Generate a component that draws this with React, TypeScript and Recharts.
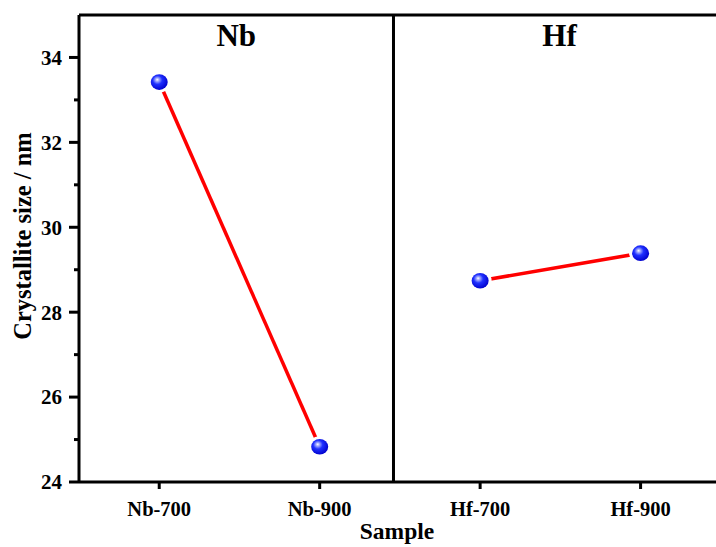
import { LineChart, Line, XAxis, YAxis, ReferenceLine, ReferenceArea } from "recharts";

const samples = ["Nb-700", "Nb-900", "Hf-700", "Hf-900"];
const nbSizes = [33.42, 24.83];
const hfSizes = [28.74, 29.39];
const yTicks = [24, 25, 26, 27, 28, 29, 30, 31, 32, 33, 34];
const groupLabels = ["Nb", "Hf"];

const nbData = nbSizes.map((v, i) => ({ x: i, size: v }));
const hfData = hfSizes.map((v, i) => ({ x: i + 2, size: v }));

const FONT = '"Liberation Serif", "Times New Roman", serif';
const AXIS_X = 79;
const DIVIDER = 1.46;

function YTick(props: any) {
  const { y, payload } = props;
  const v = payload.value;
  const major = v % 2 === 0;
  return (
    <g>
      <line x1={AXIS_X - (major ? 10 : 5)} x2={AXIS_X} y1={y} y2={y} stroke="#000" strokeWidth={3} />
      {major && (
        <text x={62} y={y} dy="0.35em" textAnchor="end" fontFamily={FONT} fontWeight="bold" fontSize={21} fill="#000">
          {v}
        </text>
      )}
    </g>
  );
}

function Sphere(props: any) {
  const { cx, cy, index } = props;
  if (cx == null || cy == null) return <g key={index} />;
  return (
    <g key={index}>
      <ellipse cx={cx} cy={cy} rx={11.5} ry={10.5} fill="#fff" />
      <ellipse cx={cx} cy={cy} rx={8.5} ry={7.8} fill="url(#sphereGrad)" />
    </g>
  );
}

export default function App() {
  return (
    <div style={{ position: "absolute", left: 0, top: 0, width: 716, height: 547, background: "#fff" }}>
      <LineChart width={716} height={547} margin={{ top: 15, right: 0, bottom: 0, left: 0 }}>
        <defs>
          <radialGradient id="sphereGrad" cx="42%" cy="40%" r="62%" fx="38%" fy="34%">
            <stop offset="0%" stopColor="#ffffff" />
            <stop offset="15%" stopColor="#aab2ff" />
            <stop offset="45%" stopColor="#1f30ff" />
            <stop offset="100%" stopColor="#0000cc" />
          </radialGradient>
        </defs>
        <XAxis
          dataKey="x"
          type="number"
          domain={[-0.5, 3.47]}
          ticks={[0, 1, 2, 3]}
          allowDataOverflow
          tickFormatter={(v: number) => samples[v] ?? ""}
          axisLine={{ stroke: "#000", strokeWidth: 3 }}
          tickLine={{ stroke: "#000", strokeWidth: 3 }}
          tickSize={7}
          tickMargin={12}
          height={65}
          tick={{ fontFamily: FONT, fontWeight: "bold", fontSize: 20.5, fill: "#000" }}
          label={{
            content: () => (
              <text x={397} y={539} textAnchor="middle" fontFamily={FONT} fontWeight="bold" fontSize={23.5} fill="#000">
                Sample
              </text>
            ),
          }}
        />
        <YAxis
          type="number"
          domain={[24, 35]}
          ticks={yTicks}
          allowDataOverflow
          width={AXIS_X}
          axisLine={{ stroke: "#000", strokeWidth: 3 }}
          tickLine={false}
          tick={<YTick />}
          interval={0}
          label={{
            content: () => (
              <text
                x={22}
                y={236}
                transform="rotate(-90 22 236)"
                textAnchor="middle"
                dy="0.35em"
                fontFamily={FONT}
                fontWeight="bold"
                fontSize={24.5}
                fill="#000"
              >
                Crystallite size / nm
              </text>
            ),
          }}
        />
        <ReferenceLine y={35} stroke="#000" strokeWidth={3} ifOverflow="visible" />
        <ReferenceLine x={DIVIDER} stroke="#000" strokeWidth={3} />
        <ReferenceArea
          x1={-0.5}
          x2={DIVIDER}
          fillOpacity={0}
          strokeOpacity={0}
          label={{ value: groupLabels[0], position: "insideTop", offset: 9, fontFamily: FONT, fontWeight: "bold", fontSize: 31, fill: "#000" }}
        />
        <ReferenceArea
          x1={DIVIDER}
          x2={3.53}
          ifOverflow="visible"
          fillOpacity={0}
          strokeOpacity={0}
          label={{ value: groupLabels[1], position: "insideTop", offset: 9, fontFamily: FONT, fontWeight: "bold", fontSize: 31, fill: "#000" }}
        />
        <Line data={nbData} dataKey="size" stroke="#ff0000" strokeWidth={3.5} dot={Sphere} activeDot={false} isAnimationActive={false} />
        <Line data={hfData} dataKey="size" stroke="#ff0000" strokeWidth={3.5} dot={Sphere} activeDot={false} isAnimationActive={false} />
      </LineChart>
    </div>
  );
}
